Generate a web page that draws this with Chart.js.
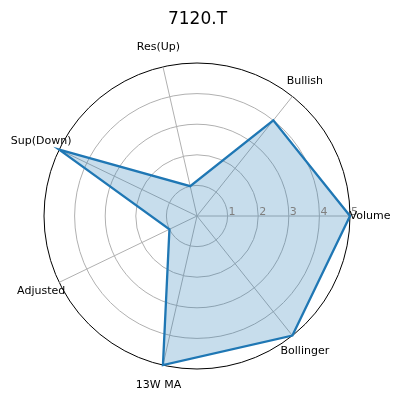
<!DOCTYPE html>
<html>
<head>
<meta charset="utf-8">
<script src="https://cdn.jsdelivr.net/npm/chart.js@4/dist/chart.umd.min.js"></script>
<style>
  html, body { margin: 0; padding: 0; background: #fff; }
  #wrap { width: 401px; height: 401px; }
</style>
</head>
<body>
<div id="wrap"><canvas id="radar"></canvas></div>
<script>
// categories in matplotlib order (counter-clockwise from east)
const categories = ['Volume', 'Bullish', 'Res(Up)', 'Sup(Down)', 'Adjusted', '13W MA', 'Bollinger'];
const scores = [5, 4, 1, 5, 1, 5, 5];
const tickValues = [1, 2, 3, 4, 5];
const chartTitle = '7120.T';

// Chart.js goes clockwise, so keep the first one and reverse the rest
const order = [0].concat(categories.map((_, i) => i).slice(1).reverse());
const labels = order.map(i => categories[i]);
const data = order.map(i => scores[i]);

const FONT = 'DejaVu Sans';

// draw tick labels and category labels horizontally, like matplotlib
const polarText = {
  id: 'polarText',
  afterDraw(chart) {
    const scale = chart.scales.r;
    const ctx = chart.ctx;
    ctx.save();
    ctx.font = '11px "' + FONT + '"';
    ctx.fillStyle = 'grey';
    ctx.textAlign = 'left';
    ctx.textBaseline = 'alphabetic';
    tickValues.forEach(v => {
      const d = scale.getDistanceFromCenterForValue(v);
      const p = scale.getPointPosition(0, d);
      ctx.fillText(String(v), p.x + 1, p.y - 1);
    });
    ctx.fillStyle = '#000';
    ctx.textAlign = 'center';
    ctx.textBaseline = 'middle';
    labels.forEach((lab, i) => {
      const p = scale.getPointPosition(i, scale.drawingArea + 20);
      ctx.fillText(lab, p.x, p.y);
    });
    ctx.restore();
  }
};

new Chart(document.getElementById('radar'), {
  type: 'radar',
  data: {
    labels: labels,
    datasets: [{
      data: data,
      borderColor: '#1f77b4',
      backgroundColor: 'rgba(31,119,180,0.25)',
      borderWidth: 2.3,
      fill: true,
      pointRadius: 0,
      tension: 0
    }]
  },
  options: {
    responsive: true,
    maintainAspectRatio: false,
    animation: false,
    layout: { padding: { left: 44, right: 50, top: 0, bottom: 30 } },
    plugins: {
      legend: { display: false },
      tooltip: { enabled: false },
      title: {
        display: true,
        text: chartTitle,
        color: '#000',
        font: { family: FONT, size: 17, weight: 'normal', lineHeight: 1.2 },
        padding: { top: 9, bottom: 33 }
      }
    },
    scales: {
      r: {
        min: 0,
        max: 5,
        startAngle: 90,
        ticks: { display: false, stepSize: 1 },
        pointLabels: { display: false },
        angleLines: { color: '#b0b0b0', lineWidth: 1 },
        grid: {
          circular: true,
          color: ctx => ctx.tick && ctx.tick.value === 5 ? '#000' : '#b0b0b0',
          lineWidth: 1
        }
      }
    }
  },
  plugins: [polarText]
});
</script>
</body>
</html>
